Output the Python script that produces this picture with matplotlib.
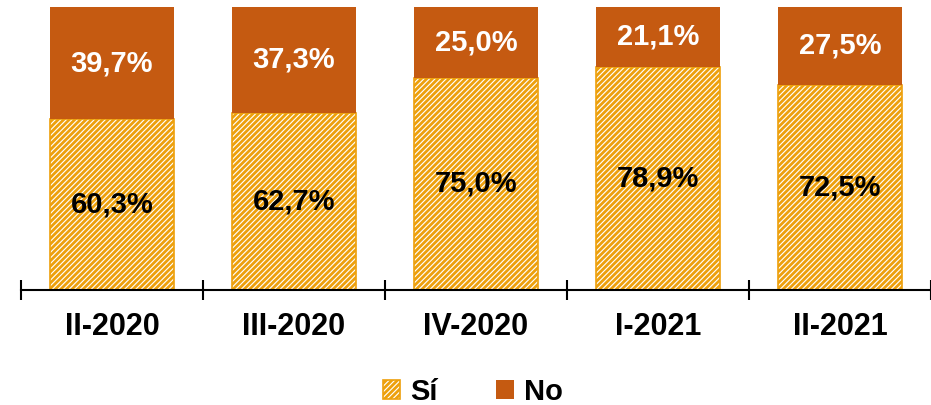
import matplotlib
matplotlib.use("Agg")
import matplotlib.pyplot as plt
import numpy as np

categories = ["II-2020", "III-2020", "IV-2020", "I-2021", "II-2021"]
si = [60.3, 62.7, 75.0, 78.9, 72.5]
no = [39.7, 37.3, 25.0, 21.1, 27.5]

plt.rcParams['font.family'] = ['Liberation Sans', 'DejaVu Sans']
plt.rcParams['hatch.linewidth'] = 2.0
plt.rcParams['hatch.color'] = '#EDA00C'

fig = plt.figure(figsize=(9.31, 4.05), dpi=100)
ax = fig.add_axes([21/931, 1 - 290/405, 910/931, 283/405])

x = np.arange(len(categories))
w = 0.68
b1 = ax.bar(x, si, width=w, color='white', edgecolor='#EDA00C', hatch='//////', linewidth=1.2, label='Sí')
b2 = ax.bar(x, no, width=w, bottom=si, color='#C55A11', edgecolor='#C55A11', linewidth=0, label='No')

for i in range(len(categories)):
    ax.text(x[i], si[i] / 2, f"{si[i]:.1f}%".replace('.', ','), ha='center', va='center',
            fontsize=21, fontweight='bold', color='black')
    ax.text(x[i], si[i] + no[i] / 2, f"{no[i]:.1f}%".replace('.', ','), ha='center', va='center',
            fontsize=21, fontweight='bold', color='white')

ax.set_xlim(-0.5, len(categories) - 0.5)
ax.set_ylim(0, 100)
for s in ['top', 'right', 'left']:
    ax.spines[s].set_visible(False)
ax.spines['bottom'].set_linewidth(1.5)
ax.set_yticks([])
ax.set_xticks(x)
ax.set_xticklabels(categories, fontsize=22, fontweight='bold')
ax.tick_params(axis='x', length=0, pad=16)
ax.set_xticks(np.arange(-0.5, len(categories) + 0.5, 1), minor=True)
ax.tick_params(axis='x', which='minor', direction='inout', length=14, width=1.5)

leg = fig.legend(handles=[b1, b2], labels=['Sí', 'No'], loc='center', bbox_to_anchor=(0.508, 1 - 392/405),
                 ncol=2, frameon=False, prop={'weight': 'bold', 'size': 21},
                 handlelength=0.6, handleheight=0.6, columnspacing=2.0, handletextpad=0.35)

fig.savefig("out.png", dpi=100)
